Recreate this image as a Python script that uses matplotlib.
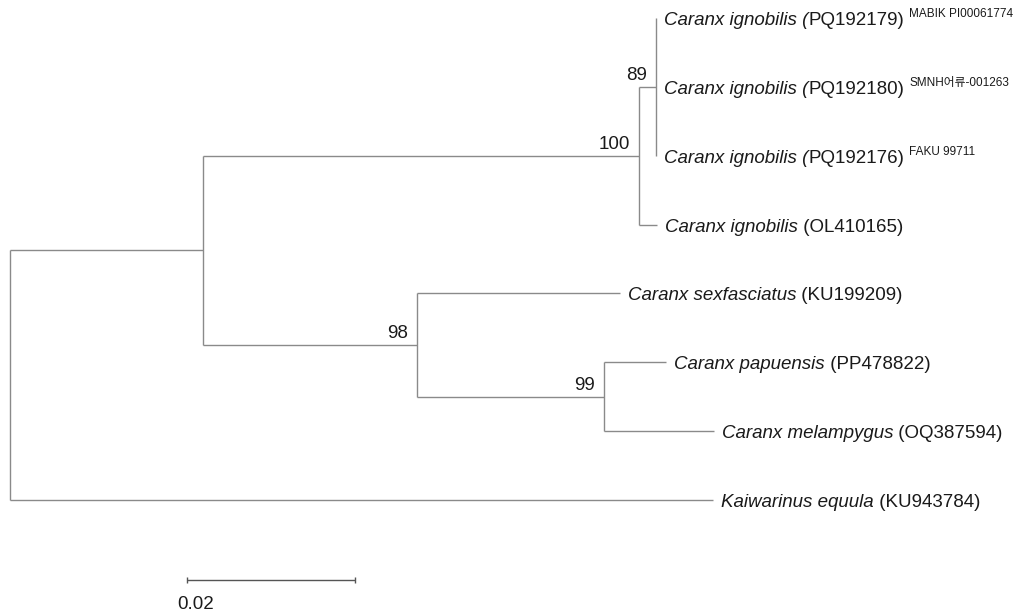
import matplotlib
matplotlib.use("Agg")
import matplotlib.pyplot as plt
from matplotlib.transforms import offset_copy, IdentityTransform

plt.rcParams['font.family'] = ['Liberation Sans', 'Noto Sans CJK KR', 'DejaVu Sans']

# ---------------- data ----------------
node_names = ["root", "n1", "n2", "n3", "t1", "t2", "t3", "t4",
              "n4", "t5", "n5", "t6", "t7", "t8"]
node_parents = [None, "root", "n1", "n2", "n3", "n3", "n3", "n2",
                "n1", "n4", "n4", "n5", "n5", "root"]
branch_lengths = [0.0, 0.0230, 0.0519, 0.0020, 0.0, 0.0, 0.0, 0.0021,
                  0.0254, 0.0242, 0.0223, 0.0074, 0.0131, 0.0837]

bootstrap_nodes = ["n2", "n3", "n4", "n5"]
bootstrap_values = [100, 89, 98, 99]

leaf_nodes = ["t1", "t2", "t3", "t4", "t5", "t6", "t7", "t8"]
leaf_species = ["Caranx ignobilis", "Caranx ignobilis", "Caranx ignobilis",
                "Caranx ignobilis", "Caranx sexfasciatus", "Caranx papuensis",
                "Caranx melampygus", "Kaiwarinus equula"]
leaf_paren_italic = [True, True, True, False, False, False, False, False]
leaf_accessions = ["PQ192179", "PQ192180", "PQ192176", "OL410165",
                   "KU199209", "PP478822", "OQ387594", "KU943784"]
leaf_vouchers = ["MABIK PI00061774", "SMNH어류-001263", "FAKU 99711",
                 "", "", "", "", ""]

scale_bar_length = 0.02
scale_bar_label = "0.02"

# ---------------- tree layout ----------------
children = {n: [] for n in node_names}
for n, p in zip(node_names, node_parents):
    if p is not None:
        children[p].append(n)

xpos = {}
for n, p, bl in zip(node_names, node_parents, branch_lengths):
    xpos[n] = (xpos[p] if p is not None else 0.0) + bl

ypos = {n: float(i) for i, n in enumerate(leaf_nodes)}


def get_y(n):
    if n in ypos:
        return ypos[n]
    ch = children[n]
    ypos[n] = (get_y(ch[0]) + get_y(ch[-1])) / 2.0
    return ypos[n]


for n in node_names:
    get_y(n)

# ---------------- figure ----------------
W, H, DPI = 1021, 615, 100
PX_PER_UNIT = 8400.0
LEAF_STEP = 68.857
X0_PX, Y0_PX = 10.0, 18.0

fig = plt.figure(figsize=(W / DPI, H / DPI), dpi=DPI)
ax = fig.add_axes([0, 0, 1, 1])
ax.set_xlim(-X0_PX / PX_PER_UNIT, (W - X0_PX) / PX_PER_UNIT)
ax.set_ylim((H - Y0_PX) / LEAF_STEP, -Y0_PX / LEAF_STEP)
ax.axis('off')

line_color = '#8a8a8a'
lw = 1.0
text_color = '#1a1a1a'
fs = 13.5

for n, p in zip(node_names, node_parents):
    if p is not None:
        ax.plot([xpos[p], xpos[n]], [ypos[n], ypos[n]], color=line_color,
                lw=lw, solid_capstyle='butt')
    if children[n]:
        ch = children[n]
        ax.plot([xpos[n], xpos[n]], [ypos[ch[0]], ypos[ch[-1]]],
                color=line_color, lw=lw, solid_capstyle='butt')

# bootstrap values
for n, v in zip(bootstrap_nodes, bootstrap_values):
    tr = offset_copy(ax.transData, fig=fig, x=-9, y=3, units='dots')
    ax.text(xpos[n], ypos[n], str(v), ha='right', va='bottom',
            fontsize=fs, color=text_color, transform=tr)

# leaf labels
renderer = fig.canvas.get_renderer()
ident = IdentityTransform()
for n, sp, pit, acc, vou in zip(leaf_nodes, leaf_species, leaf_paren_italic,
                                leaf_accessions, leaf_vouchers):
    lx, ly = ax.transData.transform((xpos[n], ypos[n]))
    base_y = ly - 7
    it_text = sp + (" (" if pit else "")
    rest = (acc + ")") if pit else (" (" + acc + ")")
    t1 = ax.text(lx + 8, base_y, it_text, style='italic', fontsize=fs,
                 va='baseline', ha='left', color=text_color, transform=ident)
    bb1 = t1.get_window_extent(renderer)
    t2 = ax.text(bb1.x1, base_y, rest, fontsize=fs, va='baseline', ha='left',
                 color=text_color, transform=ident)
    if vou:
        bb2 = t2.get_window_extent(renderer)
        ax.text(bb2.x1 + 5, ly + 1, vou, fontsize=8.5, va='baseline',
                ha='left', color=text_color, transform=ident)

# scale bar
sb_x0, sb_y = ax.transData.inverted().transform((187, H - 580))
ax.plot([sb_x0, sb_x0 + scale_bar_length], [sb_y, sb_y], color='#555555',
        lw=1.0, solid_capstyle='butt')
ax.plot([sb_x0, sb_x0 + scale_bar_length], [sb_y, sb_y], ls='none',
        marker='|', markersize=5, color='#555555', mew=1.0)
ax.text(sb_x0, sb_y, scale_bar_label, fontsize=fs, color=text_color,
        ha='left', va='center',
        transform=offset_copy(ax.transData, fig=fig, x=-10, y=-24, units='dots'))

fig.savefig('out.png', dpi=DPI, facecolor='white')
